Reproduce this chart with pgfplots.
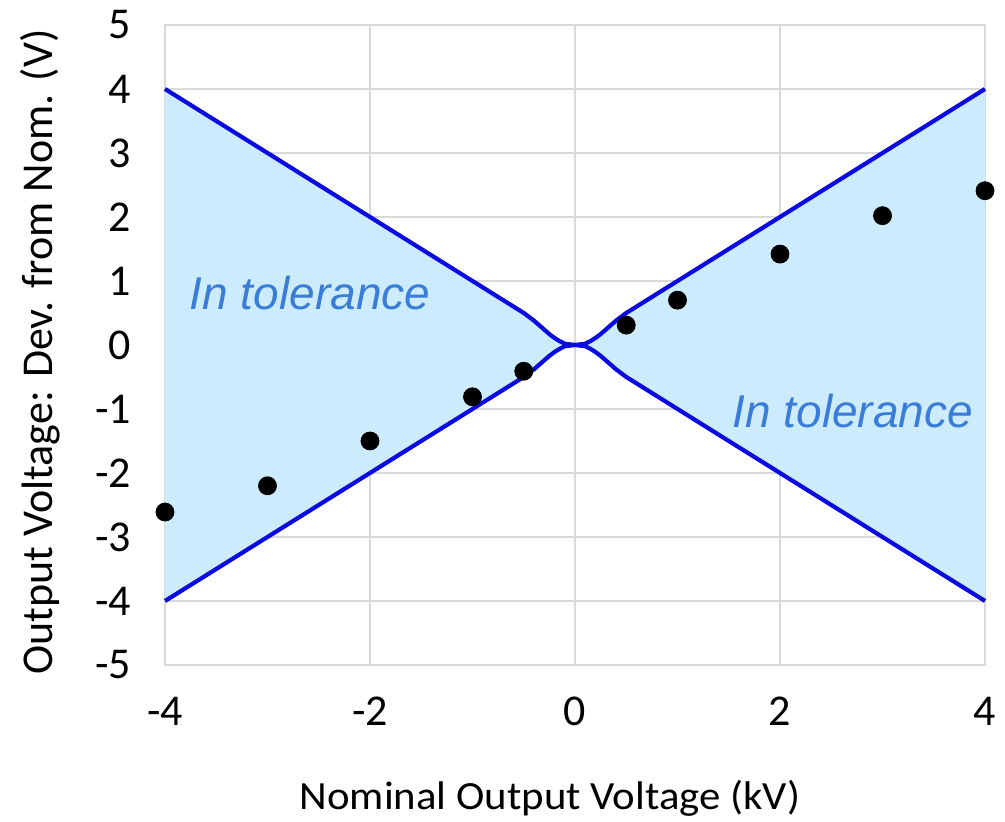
\documentclass[border=0pt]{standalone}
\usepackage{fontspec}
\setmainfont{Carlito}
\newfontfamily\widefont[FakeStretch=1.07]{Carlito}
\newfontfamily\arialit{Liberation Sans}
\usepackage{pgfplots}
\pgfplotsset{compat=1.18}
\definecolor{tolfill}{RGB}{204,235,252}
\definecolor{tolline}{RGB}{10,10,225}
\definecolor{toltext}{RGB}{58,125,216}
\definecolor{gridgray}{RGB}{217,217,217}
\begin{document}
\begin{tikzpicture}
\useasboundingbox[fill=white] (-82.5pt,-78.5pt) rectangle (420pt,332.5pt);
\begin{axis}[
  at={(0pt,0pt)}, anchor=south west,
  scale only axis, width=410pt, height=320pt,
  xmin=-4, xmax=4, ymin=-5, ymax=5,
  xtick={-4,-2,0,2,4},
  xticklabels={-4,-2,0,2,4},
  ytick={-5,-4,-3,-2,-1,0,1,2,3,4,5},
  yticklabels={-5,-4,-3,-2,-1,0,1,2,3,4,5},
  major tick length=0pt,
  grid=major,
  grid style={gridgray, line width=1pt},
  axis line style={gridgray, line width=1pt},
  xticklabel style={font=\fontsize{22}{26}\selectfont, yshift=-12.5pt},
  yticklabel style={font=\fontsize{22}{26}\selectfont, xshift=-13.5pt},
  xlabel={Nominal Output Voltage (kV)},
  xlabel style={font=\widefont\fontsize{20}{24}\selectfont, at={(axis description cs:0.4695,-0.208)}, anchor=center},
  ylabel={Output Voltage: Dev. from Nom. (V)},
  ylabel style={font=\fontsize{22}{26}\selectfont, at={(axis description cs:-0.152,0.489)}, anchor=center, rotate=0},
  clip=false,
  axis on top=false,
]
% left fill region
\addplot[fill=tolfill, draw=none] coordinates {
 (-4,4) (-0.5,0.5) (-0.45,0.44) (-0.4,0.38) (-0.35,0.31) (-0.3,0.24) (-0.25,0.17) (-0.2,0.11) (-0.15,0.06) (-0.1,0.02) (0,0)
 (-0.1,-0.02) (-0.15,-0.06) (-0.2,-0.11) (-0.25,-0.17) (-0.3,-0.24) (-0.35,-0.31) (-0.4,-0.38) (-0.45,-0.44) (-0.5,-0.5) (-4,-4)
} -- cycle;
% right fill region
\addplot[fill=tolfill, draw=none] coordinates {
 (4,4) (0.5,0.5) (0.45,0.44) (0.4,0.38) (0.35,0.31) (0.3,0.24) (0.25,0.17) (0.2,0.11) (0.15,0.06) (0.1,0.02) (0,0)
 (0.1,-0.02) (0.15,-0.06) (0.2,-0.11) (0.25,-0.17) (0.3,-0.24) (0.35,-0.31) (0.4,-0.38) (0.45,-0.44) (0.5,-0.5) (4,-4)
} -- cycle;
% tolerance lines
\addplot[tolline, line width=2.1pt, line join=round] coordinates {
 (-4,-4) (-0.5,-0.5) (-0.45,-0.44) (-0.4,-0.38) (-0.35,-0.31) (-0.3,-0.24) (-0.25,-0.17) (-0.2,-0.11) (-0.15,-0.06) (-0.1,-0.02) (0,0)
 (0.1,0.02) (0.15,0.06) (0.2,0.11) (0.25,0.17) (0.3,0.24) (0.35,0.31) (0.4,0.38) (0.45,0.44) (0.5,0.5) (4,4)
};
\addplot[tolline, line width=2.1pt, line join=round] coordinates {
 (-4,4) (-0.5,0.5) (-0.45,0.44) (-0.4,0.38) (-0.35,0.31) (-0.3,0.24) (-0.25,0.17) (-0.2,0.11) (-0.15,0.06) (-0.1,0.02) (0,0)
 (0.1,-0.02) (0.15,-0.06) (0.2,-0.11) (0.25,-0.17) (0.3,-0.24) (0.35,-0.31) (0.4,-0.38) (0.45,-0.44) (0.5,-0.5) (4,-4)
};
% measured data
\addplot[only marks, mark=*, mark size=4.5pt, black] coordinates {
 (-4,-2.61) (-3,-2.2) (-2,-1.5) (-1,-0.81) (-0.5,-0.41) (0.5,0.31) (1,0.7) (2,1.42) (3,2.02) (4,2.41)
};
\node[font=\arialit\itshape\fontsize{23}{27}\selectfont, text=toltext] at (axis cs:-2.585,0.81) {In tolerance};
\node[font=\arialit\itshape\fontsize{23}{27}\selectfont, text=toltext] at (axis cs:2.71,-1.03) {In tolerance};
\end{axis}
\end{tikzpicture}
\end{document}
